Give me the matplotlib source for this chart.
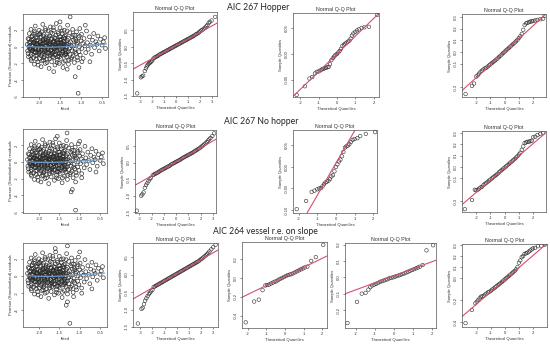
import matplotlib
matplotlib.use("Agg")
import matplotlib.pyplot as plt

plt.rcParams['font.family'] = ['Liberation Sans', 'DejaVu Sans']
plt.rcParams['axes.unicode_minus'] = False

# ---------------- data ----------------
row_titles = ["AIC 267 Hopper", "AIC 267 No hopper", "AIC 264 vessel r.e. on slope"]

# shared residual cloud (fitted, Pearson residual)
fit_core = [-2.28, -2.27, -2.26, -2.25, -2.24, -2.23, -2.22,
            -2.2, -2.19, -2.19, -2.18, -2.17, -2.16, -2.15, -2.14,
            -2.13, -2.12, -2.11, -2.1, -2.1, -2.09, -2.08, -2.07, -2.06,
            -2.05, -2.04, -2.03, -2.02, -2.01, -2.0, -2.0, -1.99, -1.98,
            -1.97, -1.96, -1.95, -1.95, -1.94, -1.93, -1.92, -1.91, -1.9, -1.9,
            -1.89, -1.88, -1.87, -1.86, -1.85, -1.85, -1.84, -1.83, -1.82, -1.81,
            -1.8, -1.79, -1.78, -1.77, -1.76, -1.75, -1.75, -1.74, -1.73, -1.72,
            -1.71, -1.7, -1.69, -1.68, -1.67, -1.66, -1.65, -1.65, -1.64, -1.63,
            -1.62, -1.61, -1.6, -1.6, -1.59, -1.58, -1.57, -1.56, -1.55, -1.55,
            -1.54, -1.53, -1.52, -1.51, -1.5, -1.5, -1.49, -1.48, -1.47, -1.46,
            -1.45, -1.44, -1.43, -1.42, -1.41, -1.4, -1.4, -1.39, -1.38, -1.37,
            -1.36, -1.35, -1.34, -1.33, -1.32, -1.31, -1.3, -1.3, -1.29, -1.28,
            -1.27, -1.26, -1.25, -1.24, -1.23, -1.22, -1.21, -1.2, -1.19, -1.18,
            -1.17, -1.16, -1.15, -1.14, -1.13, -1.12, -1.11, -1.1, -1.09, -1.08,
            -1.06, -1.05, -1.04, -1.03, -1.02, -1.0, -0.99, -0.98, -0.96, -0.95,
            -0.93, -0.91, -0.89, -0.87, -0.85, -0.83, -0.8, -0.78, -0.75, -0.73,
            -0.7, -0.68, -0.65, -0.62, -0.6, -0.57, -0.54, -0.5, -0.47, -0.44, -0.42,
            -2.21, -2.18, -2.15, -2.12, -2.09, -2.06, -2.03, -2.0, -1.97, -1.94,
            -1.91, -1.88, -1.85, -1.82, -1.79, -1.76, -1.73, -1.7, -1.67, -1.64,
            -1.61, -1.58, -1.55, -1.52, -1.49, -1.46, -1.43, -1.4, -1.37, -1.34,
            -2.24, -2.2, -2.16, -2.13, -2.1, -2.07, -2.04, -2.01, -1.98, -1.95,
            -1.92, -1.89, -1.86, -1.83, -1.8, -1.77, -1.74, -1.71, -1.68, -1.65,
            -1.62, -1.59, -1.56, -1.53, -1.5, -1.47, -1.44, -1.41, -1.38, -1.35,
            -2.26, -2.23, -2.19, -2.17, -2.14, -2.11, -2.08, -2.05, -2.02, -1.99,
            -1.96, -1.93, -1.9, -1.87, -1.84, -1.81, -1.78, -1.75, -1.72, -1.69,
            -1.66, -1.63, -1.6, -1.57, -1.54, -1.51, -1.48, -1.45, -1.42, -1.39,
            -1.36, -1.33, -1.29, -1.26, -1.22, -1.19, -1.15, -1.12, -1.08, -1.04,
            -2.22, -2.17, -2.13, -2.08, -2.04, -1.99, -1.95, -1.9, -1.86, -1.81,
            -1.77, -1.72, -1.68, -1.63, -1.59, -1.54, -1.5, -1.45, -1.41, -1.36,
            -2.19, -2.14, -2.1, -2.05, -2.01, -1.96, -1.92, -1.87, -1.83, -1.78,
            -1.74, -1.69, -1.65, -1.6, -1.56, -1.51, -1.47, -1.42, -1.38, -1.33]
res_core = [0.3, -0.5, 1.0, -1.2, 0.0, 1.6, -0.2,
            0.6, -0.9, 2.1, -1.7, 0.2, 1.3, -0.4, 0.9,
            -1.3, 0.5, -2.1, 1.7, -0.1, 2.5, -0.7, 1.1, 0.3,
            -1.0, 0.8, -1.8, 1.4, -0.3, 0.1, 2.0, -1.4, 0.6,
            -0.6, 1.2, -2.4, 0.3, 1.8, -0.9, 0.0, 2.7, -1.6, 0.9,
            -0.2, 1.5, -1.2, 0.5, -2.0, 2.2, -0.5, 1.0, 0.2, -1.5,
            0.7, -0.8, 1.9, -0.1, -2.6, 1.3, 0.4, -1.1, 2.4, -0.4,
            0.9, -1.8, 0.1, 1.6, -0.7, 0.6, -1.3, 2.0, -0.2, 1.1,
            -2.2, 0.3, 1.4, -0.9, 2.8, 0.0, -1.6, 0.8, -0.5, 1.8,
            -1.1, 0.5, -2.0, 1.2, -0.3, 2.3, 0.2, -1.4, 0.9, -0.7,
            1.6, -0.1, -2.5, 0.6, 1.1, -1.0, 2.0, 0.3, -1.7, -0.4,
            1.4, 0.0, -1.2, 0.8, 2.6, -0.6, 1.0, -2.1, 0.4, -0.2,
            1.7, -0.9, 0.6, -1.5, 0.1, 1.2, -0.5, 2.1, -1.1, 0.8,
            0.2, -1.9, 1.4, -0.3, 0.9, -0.8, 1.8, 0.3, -1.3, 0.5,
            1.1, -0.6, 0.0, 2.2, -1.0, 0.7, 1.5, -0.2, 0.4, -1.4,
            1.0, 0.1, -0.7, 1.9, 0.5, -0.3, 1.2, 0.2, -0.9, 0.8,
            1.6, -0.1, 0.6, 0.3, 1.3, -0.5, 0.9, 0.2, 0.6, 1.1, -0.2,
            -0.3, 0.8, 0.1, -0.6, 0.4, -1.5, 0.2, -0.8, 0.5, -0.4,
            0.7, -1.0, 0.1, 1.2, -0.3, 0.3, -0.9, 1.0, 0.2, -0.6,
            1.0, -0.3, 0.4, -0.8, 1.2, 0.1, -0.5, 0.7, -1.0, 0.3,
            0.9, -1.1, -0.5, 1.5, 0.7, -0.3, 1.1, -0.5, 1.6, -1.1,
            0.4, -1.3, 0.9, -0.7, 0.0, 1.1, 0.6, -0.4, -1.2, 0.5,
            -0.2, 0.6, -1.2, 0.0, 0.8, -0.9, 0.4, -0.2, 1.0, -0.6,
            -0.8, 0.5, -1.5, 1.2, -0.2, 1.9, -1.1, 0.4, -2.2, 1.5,
            0.0, -1.7, 1.3, -0.6, 2.0, -1.9, 0.5, -1.4, 1.7, -0.8,
            2.3, -1.0, 0.0, -1.9, 1.6, -1.2, 0.5, 1.9, -1.9, 1.3,
            -0.8, 1.9, -1.6, -0.1, -1.3, 1.4, -0.6, 0.7, -1.6, 1.3,
            0.15, -0.45, 0.55, -0.15, 0.35, -0.65, 0.05, 0.75, -0.35, 0.45,
            -0.75, 0.25, -0.05, 0.65, -0.55, 0.15, 0.85, -0.25, 0.35, -0.85,
            -0.15, 0.45, -0.65, 0.25, -0.35, 0.65, 0.05, -0.45, 0.55, -0.25,
            0.35, -0.55, 0.75, -0.05, 0.15, -0.75, 0.45, 0.05, -0.35, 0.25]

# per-panel outlying residuals
fit_out1 = [-1.26, -1.07, -1.14, -1.05, -0.98, -0.79, -1.33, -1.5, -0.9, -1.65]
res_out1 = [3.6, -5.6, -3.6, -2.5, -1.8, -1.8, -2.7, 3.0, 2.6, -3.0]
fit_out2 = [-1.31, -1.1, -1.21, -1.18, -1.1, -0.95, -0.6, -1.55, -1.0]
res_out2 = [3.5, -5.8, -3.6, -3.3, -2.4, -1.9, -1.2, 3.1, 2.5]
fit_out3 = [-1.3, -1.24, -1.33, -1.3, -1.15, -0.95, -0.7, -1.6, -1.0]
res_out3 = [3.5, -5.5, -3.4, -3.0, -2.4, -2.0, -1.5, 3.2, 2.8]

# smoother through residuals
smooth_fit = [-2.3, -2.0, -1.7, -1.4, -1.1, -0.8, -0.5, -0.4]
smooth_res = [0.05, -0.05, -0.05, 0.0, 0.1, 0.2, 0.3, 0.35]

mid_x = [-1.9, -1.8, -1.7, -1.6, -1.5, -1.4, -1.3, -1.2, -1.1, -1.0,
         -0.9, -0.8, -0.7, -0.6, -0.5, -0.4, -0.3, -0.2, -0.1, 0.0,
         0.1, 0.2, 0.3, 0.4, 0.5, 0.6, 0.7, 0.8, 0.9, 1.0,
         1.1, 1.2, 1.3, 1.4, 1.5, 1.6, 1.7, 1.8, 1.9]

# column-2 Q-Q plots (random-effect residuals, large n)
b1_theo = [-3.25, -2.95, -2.85, -2.75, -2.62, -2.52, -2.45, -2.38, -2.3, -2.22, -2.15, -2.08, -2.0] + mid_x + \
          [2.0, 2.1, 2.2, 2.3, 2.4, 2.5, 2.6, 2.7, 2.8, 2.95, 3.25]
b1_samp = [-1.42, -0.93, -0.9, -0.88, -0.74, -0.66, -0.6, -0.56, -0.52, -0.5, -0.47, -0.45, -0.42,
           -0.36, -0.33, -0.31, -0.29, -0.27, -0.24, -0.22, -0.2, -0.18, -0.16, -0.14, -0.12, -0.1,
           -0.08, -0.06, -0.04, -0.02, 0.0, 0.02, 0.04, 0.06, 0.08, 0.1, 0.12, 0.14, 0.16, 0.18,
           0.2, 0.22, 0.24, 0.26, 0.28, 0.3, 0.32, 0.34, 0.37, 0.39, 0.41, 0.44,
           0.47, 0.5, 0.52, 0.55, 0.58, 0.62, 0.66, 0.72, 0.76, 0.8, 0.91]
b2_theo = [-3.2, -2.85, -2.75, -2.65, -2.55, -2.45, -2.35, -2.25, -2.15, -2.05] + mid_x + \
          [2.0, 2.1, 2.2, 2.3, 2.4, 2.5, 2.6, 2.7, 2.8, 2.95, 3.1]
b2_samp = [-1.45, -1.0, -0.96, -0.9, -0.76, -0.68, -0.62, -0.56, -0.5, -0.46,
           -0.38, -0.36, -0.34, -0.32, -0.3, -0.28, -0.25, -0.23, -0.21, -0.19, -0.17, -0.15,
           -0.13, -0.11, -0.09, -0.06, -0.04, -0.02, 0.0, 0.02, 0.04, 0.06, 0.08, 0.1, 0.13,
           0.15, 0.17, 0.19, 0.21, 0.23, 0.25, 0.27, 0.29, 0.31, 0.34, 0.36, 0.38, 0.41, 0.43,
           0.46, 0.49, 0.52, 0.55, 0.58, 0.62, 0.66, 0.7, 0.74, 0.8, 0.88]
b3_theo = [-3.2, -2.9, -2.8, -2.7, -2.6, -2.5, -2.4, -2.3, -2.2, -2.1, -2.0] + mid_x + \
          [2.0, 2.1, 2.2, 2.3, 2.4, 2.5, 2.6, 2.7, 2.85, 3.0, 3.2]
b3_samp = [-1.4, -0.98, -0.95, -0.85, -0.75, -0.68, -0.62, -0.56, -0.52, -0.48, -0.44,
           -0.36, -0.34, -0.32, -0.3, -0.28, -0.26, -0.24, -0.22, -0.2, -0.18, -0.16, -0.14,
           -0.12, -0.1, -0.08, -0.06, -0.04, -0.02, 0.0, 0.02, 0.04, 0.06, 0.08, 0.1, 0.12,
           0.14, 0.16, 0.18, 0.2, 0.22, 0.24, 0.26, 0.28, 0.3, 0.32, 0.34, 0.36, 0.38, 0.41,
           0.44, 0.46, 0.49, 0.52, 0.55, 0.58, 0.62, 0.66, 0.72, 0.78, 0.85]

# column-3 Q-Q plots (small n)
c1_theo = [-2.2, -1.75, -1.5, -1.35, -1.2, -1.1, -1.0, -0.9, -0.82, -0.75, -0.68, -0.6, -0.52,
           -0.45, -0.38, -0.3, -0.22, -0.15, -0.08, 0.0, 0.08, 0.15, 0.22, 0.3, 0.38, 0.45,
           0.52, 0.6, 0.68, 0.75, 0.82, 0.9, 1.0, 1.1, 1.2, 1.35, 1.5, 1.75, 2.2]
c1_samp = [-0.08, -0.063, -0.048, -0.045, -0.038, -0.035, -0.034, -0.032, -0.03, -0.029, -0.028,
           -0.027, -0.026, -0.025, -0.02, -0.012, -0.008, -0.005, -0.002, 0.0, 0.003, 0.006,
           0.01, 0.016, 0.018, 0.02, 0.022, 0.024, 0.026, 0.03, 0.036, 0.04, 0.043, 0.046,
           0.048, 0.051, 0.052, 0.053, 0.076]
c2_theo = [-2.1, -1.6, -1.3, -1.15, -1.0, -0.9, -0.8, -0.72, -0.64, -0.56, -0.48, -0.4, -0.32,
           -0.24, -0.16, -0.08, 0.0, 0.08, 0.16, 0.24, 0.32, 0.4, 0.48, 0.56, 0.64, 0.72, 0.8,
           0.9, 1.0, 1.15, 1.3, 1.6, 2.1]
c2_samp = [-0.098, -0.079, -0.058, -0.055, -0.052, -0.05, -0.049, -0.045, -0.04, -0.036, -0.034,
           -0.032, -0.028, -0.022, -0.019, -0.01, 0.0, 0.006, 0.013, 0.017, 0.025, 0.035, 0.045,
           0.048, 0.05, 0.053, 0.058, 0.063, 0.065, 0.067, 0.072, 0.077, 0.081]
c3a_theo = [-2.1, -1.65, -1.4, -1.2, -1.05, -0.95, -0.85, -0.75, -0.65, -0.55, -0.45, -0.35,
            -0.25, -0.15, -0.05, 0.05, 0.15, 0.25, 0.35, 0.45, 0.55, 0.65, 0.75, 0.85, 0.95,
            1.05, 1.2, 1.4, 1.65, 2.05]
c3a_samp = [-0.47, -0.25, -0.23, -0.13, -0.08, -0.075, -0.07, -0.06, -0.05, -0.04, -0.035,
            -0.02, -0.01, 0.0, 0.01, 0.02, 0.03, 0.035, 0.04, 0.05, 0.06, 0.07, 0.08, 0.09,
            0.1, 0.11, 0.12, 0.18, 0.22, 0.35]
c3b_theo = [-2.45, -1.95, -1.7, -1.5, -1.35, -1.25, -1.15, -1.05, -0.95, -0.85, -0.75, -0.65,
            -0.55, -0.45, -0.35, -0.25, -0.15, -0.05, 0.05, 0.15, 0.25, 0.35, 0.45, 0.55, 0.65,
            0.75, 0.85, 0.95, 1.05, 1.15, 1.25, 1.35, 1.5, 1.7, 2.05]
c3b_samp = [-0.28, -0.15, -0.1, -0.095, -0.075, -0.06, -0.05, -0.045, -0.04, -0.035, -0.028,
            -0.024, -0.02, -0.015, -0.012, -0.006, -0.003, 0.0, 0.004, 0.008, 0.012, 0.016,
            0.02, 0.025, 0.03, 0.035, 0.04, 0.045, 0.05, 0.055, 0.06, 0.065, 0.075, 0.165, 0.196]

# column-4 Q-Q plots
mid_x4 = [-2.0] + mid_x + [2.0]
d1_theo = [-2.75, -2.3, -2.15] + mid_x4 + [2.15, 2.3, 2.5, 2.7, 2.8]
d1_samp = [-0.36, -0.29, -0.27,
           -0.21, -0.2, -0.185, -0.17, -0.16, -0.15, -0.14, -0.135, -0.125, -0.115, -0.105,
           -0.095, -0.085, -0.075, -0.065, -0.055, -0.043, -0.032, -0.02, -0.008, 0.003,
           0.014, 0.025, 0.036, 0.047, 0.058, 0.069, 0.08, 0.092, 0.105,
           0.12, 0.135, 0.155, 0.19, 0.23, 0.245, 0.25, 0.255, 0.26, 0.262, 0.265,
           0.27, 0.275, 0.28, 0.285, 0.31]
d2_theo = [-2.8, -2.3, -2.1] + mid_x4 + [2.15, 2.3, 2.5, 2.7]
d2_samp = [-0.37, -0.29, -0.2,
           -0.205, -0.2, -0.19, -0.18, -0.175, -0.16, -0.15, -0.14, -0.13, -0.12, -0.11,
           -0.1, -0.09, -0.08, -0.07, -0.06, -0.048, -0.037, -0.026, -0.015, -0.005,
           0.005, 0.016, 0.027, 0.038, 0.048, 0.059, 0.07, 0.082, 0.095,
           0.11, 0.125, 0.15, 0.18, 0.21, 0.215, 0.22, 0.222, 0.225, 0.23, 0.26,
           0.265, 0.28, 0.29, 0.3]
d3_theo = [-2.8, -2.35, -2.1] + mid_x4 + [2.15, 2.35, 2.6, 2.85]
d3_samp = [-0.41, -0.29, -0.23,
           -0.215, -0.2, -0.185, -0.17, -0.165, -0.16, -0.15, -0.14, -0.13, -0.125, -0.115,
           -0.105, -0.095, -0.085, -0.075, -0.065, -0.055, -0.045, -0.034, -0.023, -0.012,
           -0.001, 0.01, 0.021, 0.032, 0.043, 0.054, 0.066, 0.08, 0.1,
           0.14, 0.16, 0.19, 0.2, 0.22, 0.225, 0.23, 0.24, 0.25, 0.26, 0.27,
           0.275, 0.29, 0.295, 0.305]

# reference lines (intercept, slope)
qq_lines = {"b1": (0.04, 0.2), "b2": (0.02, 0.21), "b3": (0.02, 0.2),
            "c1": (0.0, 0.0345), "c2": (0.009, 0.075), "c3a": (0.016, 0.096), "c3b": (0.01, 0.043),
            "d1": (0.003, 0.111), "d2": (-0.009, 0.107), "d3": (-0.015, 0.11)}

# ---------------- figure ----------------
W, H = 550, 350
fig = plt.figure(figsize=(W / 100, H / 100), dpi=100)

EDGE = '#2a2a2a'
LINE_RED = '#d4506c'
BLUE = '#6b9bc6'
TXT = '#333333'


def make_ax(x0, y0, x1, y1):
    return fig.add_axes([x0 / W, 1 - y1 / H, (x1 - x0) / W, (y1 - y0) / H])


def style(ax, xlim, ylim, xt, xlabels, yt, ylabels):
    ax.set_xlim(*xlim)
    ax.set_ylim(*ylim)
    ax.set_xticks(xt, labels=xlabels)
    ax.set_yticks(yt, labels=ylabels)
    ax.tick_params(length=1.6, width=0.4, labelsize=3.0, pad=1.2, colors=TXT)
    for t in ax.get_yticklabels():
        t.set_rotation(90)
        t.set_va('center')
    for s in ax.spines.values():
        s.set_linewidth(0.5)
        s.set_color('#555555')


def resid_panel(rect, fo, ro, ylim, xlim, yt):
    ax = make_ax(*rect)
    ax.scatter(fit_core + fo, res_core + ro, s=7.5, facecolors='none', edgecolors=EDGE,
               linewidths=0.45)
    ax.plot(smooth_fit, smooth_res, color=BLUE, lw=0.9)
    style(ax, xlim, ylim, [-2.0, -1.5, -1.0, -0.5], ['-2.0', '-1.5', '-1.0', '-0.5'],
          yt, ['%d' % v for v in yt])
    ax.set_xlabel('fitted', fontsize=3.0, labelpad=1.5, color=TXT)
    ax.set_ylabel('Pearson (Standardized) residuals', fontsize=3.0, labelpad=1.5, color=TXT)
    return ax


def qq_panel(rect, theo, samp, key, xlim, ylim, xt, yt, ylabels):
    ax = make_ax(*rect)
    ax.scatter(theo, samp, s=6.5, facecolors='none', edgecolors=EDGE, linewidths=0.4)
    a, b = qq_lines[key]
    ax.axline((0, a), slope=b, color=LINE_RED, lw=0.8)
    style(ax, xlim, ylim, xt, ['%d' % v for v in xt], yt, ylabels)
    ax.set_title('Normal Q-Q Plot', fontsize=3.8, pad=1.5, color=TXT)
    ax.set_xlabel('Theoretical Quantiles', fontsize=3.0, labelpad=1.5, color=TXT)
    ax.set_ylabel('Sample Quantiles', fontsize=3.0, labelpad=1.5, color=TXT)
    return ax


b_yt = [-1.5, -1.0, -0.5, 0.0, 0.5]
b_yl = ['-1.5', '-1.0', '-0.5', '0.0', '0.5']
b_xt = [-3, -2, -1, 0, 1, 2, 3]
c_xt = [-2, -1, 0, 1, 2]

# row 1
resid_panel((23, 14, 108, 97), fit_out1, res_out1, (-6.05, 3.95), (-2.38, -0.36), [-6, -4, -2, 0, 2])
qq_panel((133, 12, 217, 96), b1_theo, b1_samp, 'b1', (-3.6, 3.4), (-1.48, 1.06), b_xt, b_yt, b_yl)
qq_panel((293, 13, 379, 97), c1_theo, c1_samp, 'c1', (-2.4, 2.3), (-0.084, 0.080), c_xt,
         [-0.05, 0.0, 0.05], ['-0.05', '0.00', '0.05'])
qq_panel((462, 14, 546, 97), d1_theo, d1_samp, 'd1', (-3.0, 2.9), (-0.385, 0.325), c_xt,
         [-0.3, -0.1, 0.0, 0.1, 0.2, 0.3], ['-0.3', '-0.1', '0.0', '0.1', '0.2', '0.3'])

# row 2
resid_panel((23, 129, 107, 213), fit_out2, res_out2, (-6.14, 3.98), (-2.39, -0.33), [-6, -4, -2, 0, 2])
qq_panel((135, 130, 216, 213), b2_theo, b2_samp, 'b2', (-3.35, 3.25), (-1.52, 0.98), b_xt, b_yt, b_yl)
qq_panel((293, 130, 377, 213), c2_theo, c2_samp, 'c2', (-2.3, 2.2), (-0.107, 0.086), c_xt,
         [-0.10, -0.05, 0.0, 0.05], ['-0.10', '-0.05', '0.00', '0.05'])
qq_panel((462, 131, 546, 212), d2_theo, d2_samp, 'd2', (-3.0, 2.9), (-0.395, 0.315), c_xt,
         [-0.3, -0.1, 0.0, 0.1, 0.2, 0.3], ['-0.3', '-0.1', '0.0', '0.1', '0.2', '0.3'])

# row 3
resid_panel((23, 243, 107, 327), fit_out3, res_out3, (-5.93, 3.84), (-2.39, -0.33), [-4, -2, 0, 2])
qq_panel((133, 243, 218, 327), b3_theo, b3_samp, 'b3', (-3.6, 3.4), (-1.45, 0.9), b_xt, b_yt, b_yl)
qq_panel((242, 242, 327, 328), c3a_theo, c3a_samp, 'c3a', (-2.3, 2.25), (-0.53, 0.38), c_xt,
         [-0.4, -0.2, 0.0, 0.2], ['-0.4', '-0.2', '0.0', '0.2'])
qq_panel((345, 243, 436, 328), c3b_theo, c3b_samp, 'c3b', (-2.58, 2.2), (-0.31, 0.21), c_xt,
         [-0.2, -0.1, 0.0, 0.1, 0.2], ['-0.2', '-0.1', '0.0', '0.1', '0.2'])
qq_panel((462, 244, 547, 327), d3_theo, d3_samp, 'd3', (-3.05, 3.0), (-0.445, 0.31), c_xt,
         [-0.4, -0.2, 0.0, 0.1, 0.2, 0.3], ['-0.4', '-0.2', '0.0', '0.1', '0.2', '0.3'])

# row titles
for (cx, cy), t in zip([(258, 8), (261, 122), (265, 232)], row_titles):
    fig.text(cx / W, 1 - cy / H, t, ha='center', va='center', fontsize=6.2,
             family=['Lato', 'DejaVu Sans'], color='#222222')

fig.savefig('out.png', dpi=100, facecolor='white')
